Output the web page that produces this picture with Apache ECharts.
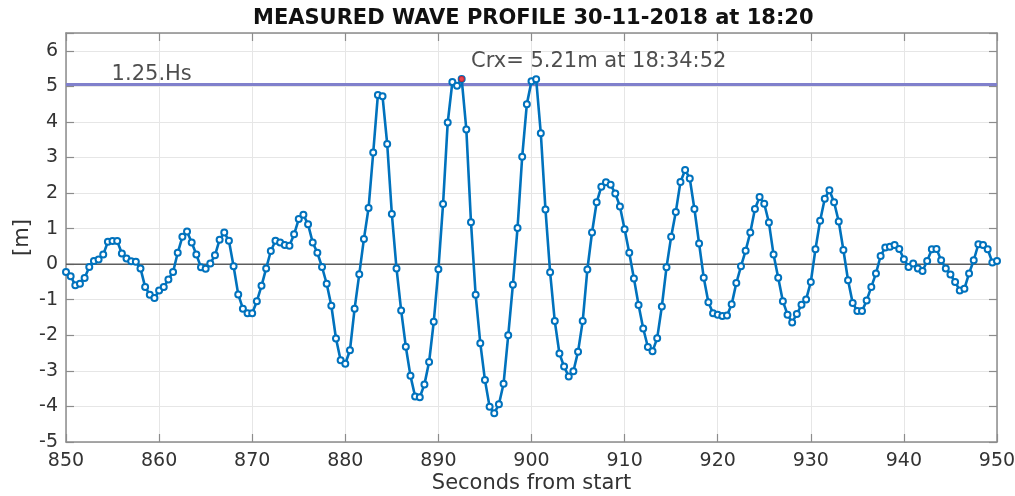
<!DOCTYPE html>
<html>
<head>
<meta charset="utf-8">
<script src="https://cdn.jsdelivr.net/npm/echarts@6/dist/echarts.min.js"></script>
<style>
  html, body { margin: 0; padding: 0; background: #ffffff; }
  #chart { width: 1015px; height: 496px; }
</style>
</head>
<body>
<div id="chart"></div>
<script>
// ---- data ----
const seconds = [
  850.0, 850.5, 851.0, 851.5, 852.0, 852.5, 853.0, 853.5, 854.0, 854.5, 855.0, 855.5, 856.0, 856.5, 857.0, 857.5, 858.0, 858.5, 859.0, 859.5,
  860.0, 860.5, 861.0, 861.5, 862.0, 862.5, 863.0, 863.5, 864.0, 864.5, 865.0, 865.5, 866.0, 866.5, 867.0, 867.5, 868.0, 868.5, 869.0, 869.5,
  870.0, 870.5, 871.0, 871.5, 872.0, 872.5, 873.0, 873.5, 874.0, 874.5, 875.0, 875.5, 876.0, 876.5, 877.0, 877.5, 878.0, 878.5, 879.0, 879.5,
  880.0, 880.5, 881.0, 881.5, 882.0, 882.5, 883.0, 883.5, 884.0, 884.5, 885.0, 885.5, 886.0, 886.5, 887.0, 887.5, 888.0, 888.5, 889.0, 889.5,
  890.0, 890.5, 891.0, 891.5, 892.0, 892.5, 893.0, 893.5, 894.0, 894.5, 895.0, 895.5, 896.0, 896.5, 897.0, 897.5, 898.0, 898.5, 899.0, 899.5,
  900.0, 900.5, 901.0, 901.5, 902.0, 902.5, 903.0, 903.5, 904.0, 904.5, 905.0, 905.5, 906.0, 906.5, 907.0, 907.5, 908.0, 908.5, 909.0, 909.5,
  910.0, 910.5, 911.0, 911.5, 912.0, 912.5, 913.0, 913.5, 914.0, 914.5, 915.0, 915.5, 916.0, 916.5, 917.0, 917.5, 918.0, 918.5, 919.0, 919.5,
  920.0, 920.5, 921.0, 921.5, 922.0, 922.5, 923.0, 923.5, 924.0, 924.5, 925.0, 925.5, 926.0, 926.5, 927.0, 927.5, 928.0, 928.5, 929.0, 929.5,
  930.0, 930.5, 931.0, 931.5, 932.0, 932.5, 933.0, 933.5, 934.0, 934.5, 935.0, 935.5, 936.0, 936.5, 937.0, 937.5, 938.0, 938.5, 939.0, 939.5,
  940.0, 940.5, 941.0, 941.5, 942.0, 942.5, 943.0, 943.5, 944.0, 944.5, 945.0, 945.5, 946.0, 946.5, 947.0, 947.5, 948.0, 948.5, 949.0, 949.5,
  950.0
];
const elevation = [
  -0.22, -0.34, -0.59, -0.55, -0.39, -0.08, 0.09, 0.13, 0.27, 0.63, 0.65, 0.65, 0.30, 0.16, 0.08, 0.07, -0.12, -0.64, -0.86, -0.95,
  -0.74, -0.64, -0.43, -0.22, 0.32, 0.77, 0.92, 0.61, 0.27, -0.09, -0.13, 0.02, 0.25, 0.69, 0.89, 0.66, -0.06, -0.85, -1.25, -1.38,
  -1.38, -1.04, -0.61, -0.12, 0.37, 0.66, 0.61, 0.54, 0.52, 0.84, 1.27, 1.39, 1.12, 0.61, 0.32, -0.08, -0.55, -1.17, -2.09, -2.70,
  -2.80, -2.42, -1.25, -0.28, 0.71, 1.58, 3.14, 4.76, 4.72, 3.38, 1.41, -0.12, -1.30, -2.32, -3.14, -3.72, -3.74, -3.38, -2.75, -1.62,
  -0.14, 1.69, 3.98, 5.12, 5.02, 5.21, 3.79, 1.18, -0.86, -2.22, -3.26, -4.01, -4.19, -3.94, -3.36, -2.00, -0.58, 1.02, 3.02, 4.50,
  5.14, 5.20, 3.68, 1.54, -0.23, -1.60, -2.51, -2.88, -3.16, -3.01, -2.46, -1.60, -0.15, 0.89, 1.74, 2.18, 2.30, 2.23, 1.99, 1.62,
  0.98, 0.32, -0.40, -1.15, -1.81, -2.33, -2.45, -2.08, -1.19, -0.09, 0.77, 1.47, 2.31, 2.65, 2.41, 1.55, 0.58, -0.38, -1.07, -1.38,
  -1.42, -1.46, -1.44, -1.13, -0.53, -0.06, 0.38, 0.89, 1.55, 1.89, 1.70, 1.17, 0.27, -0.38, -1.04, -1.42, -1.64, -1.40, -1.14, -0.99,
  -0.50, 0.42, 1.22, 1.84, 2.08, 1.74, 1.20, 0.40, -0.45, -1.09, -1.32, -1.32, -1.02, -0.64, -0.26, 0.23, 0.47, 0.49, 0.54, 0.43,
  0.14, -0.08, 0.02, -0.12, -0.19, 0.09, 0.42, 0.43, 0.11, -0.12, -0.29, -0.50, -0.74, -0.69, -0.26, 0.11, 0.56, 0.54, 0.42, 0.05,
  0.09
];
const hsLevel = 5.05;          // 1.25 x Hs threshold [m]
const hsLabel = '1.25.Hs';
const crestTime = 892.5;       // seconds from start
const crestValue = 5.21;       // m
const crestClock = '18:34:52';
const xMin = 850, xMax = 950, xStep = 10;
const yMin = -5, yMax = 6.5, yStep = 1;
const titleText = 'MEASURED WAVE PROFILE 30-11-2018 at 18:20';
const xName = 'Seconds from start';
const yName = '[m]';

// ---- chart ----
const FONT = 'DejaVu Sans';
const AXIS_COLOR = '#8c8c8c';
const TEXT_COLOR = '#333333';

const chart = echarts.init(document.getElementById('chart'), null, { renderer: 'canvas' });

const axisBase = {
  type: 'value',
  axisLine: { show: true, onZero: false, lineStyle: { color: AXIS_COLOR, width: 1.5 } },
  axisTick: { show: true, inside: true, length: 8, lineStyle: { color: AXIS_COLOR, width: 1.2 } },
  splitLine: { show: false },
  axisLabel: { show: false }
};

const option = {
  animation: false,
  backgroundColor: '#ffffff',
  title: {
    text: titleText,
    left: 248,
    top: 3,
    textStyle: { fontFamily: FONT, fontWeight: 'bold', fontSize: 21, color: '#111111' }
  },
  grid: { left: 66, right: 18, top: 33, bottom: 54, containLabel: false, outerBoundsMode: 'none' },
  xAxis: [
    Object.assign({}, axisBase, {
      position: 'bottom', min: xMin, max: xMax, interval: xStep,
      splitLine: { show: true, lineStyle: { color: '#e6e6e6', width: 1 } },
      axisLabel: { show: true, fontFamily: FONT, fontSize: 19, color: TEXT_COLOR, margin: 10 },
      name: xName, nameLocation: 'middle', nameGap: 31, nameMoveOverlap: false,
      nameTextStyle: { fontFamily: FONT, fontSize: 21, color: TEXT_COLOR }
    }),
    Object.assign({}, axisBase, { position: 'top', min: xMin, max: xMax, interval: xStep })
  ],
  yAxis: [
    Object.assign({}, axisBase, {
      position: 'left', min: yMin, max: yMax, interval: yStep,
      splitLine: { show: true, lineStyle: { color: '#e6e6e6', width: 1 } },
      axisLabel: {
        show: true, fontFamily: FONT, fontSize: 19, color: TEXT_COLOR, margin: 8,
        formatter: v => (v > 6.2 ? '' : String(v))
      },
      name: yName, nameLocation: 'middle', nameGap: 33, nameMoveOverlap: false,
      nameTextStyle: { fontFamily: FONT, fontSize: 21, color: TEXT_COLOR }
    }),
    Object.assign({}, axisBase, { position: 'right', min: yMin, max: yMax, interval: yStep })
  ],
  series: [
    {
      name: 'zero',
      type: 'line',
      data: [[xMin, 0], [xMax, 0]],
      symbol: 'none',
      lineStyle: { color: '#5e5e5e', width: 1.5 },
      silent: true,
      z: 1
    },
    {
      name: 'hs',
      type: 'line',
      data: [[xMin, hsLevel], [xMax, hsLevel]],
      symbol: 'none',
      lineStyle: { color: '#8080cc', width: 3 },
      silent: true,
      z: 2
    },
    {
      name: 'wave',
      type: 'line',
      data: seconds.map((t, i) => [t, elevation[i]]),
      symbol: 'emptyCircle',
      symbolSize: 6,
      showAllSymbol: true,
      lineStyle: { color: '#0072BD', width: 2.6 },
      itemStyle: { color: '#0072BD', borderColor: '#0072BD', borderWidth: 1.6 },
      z: 3
    },
    {
      name: 'crest',
      type: 'scatter',
      data: [[crestTime, crestValue]],
      symbol: 'circle',
      symbolSize: 6,
      itemStyle: { color: '#e8141c' },
      z: 5
    },
    {
      name: 'labels',
      type: 'scatter',
      symbolSize: 0,
      silent: true,
      z: 6,
      label: {
        show: true, position: 'right', distance: 0,
        fontFamily: FONT, fontSize: 21, color: '#222222',
        formatter: p => p.name
      },
      data: [
        { name: hsLabel, value: [854.9, 5.32] },
        { name: 'Crx= ' + crestValue.toFixed(2) + 'm at ' + crestClock, value: [893.5, 5.69] }
      ]
    }
  ]
};

chart.setOption(option);
</script>
</body>
</html>
